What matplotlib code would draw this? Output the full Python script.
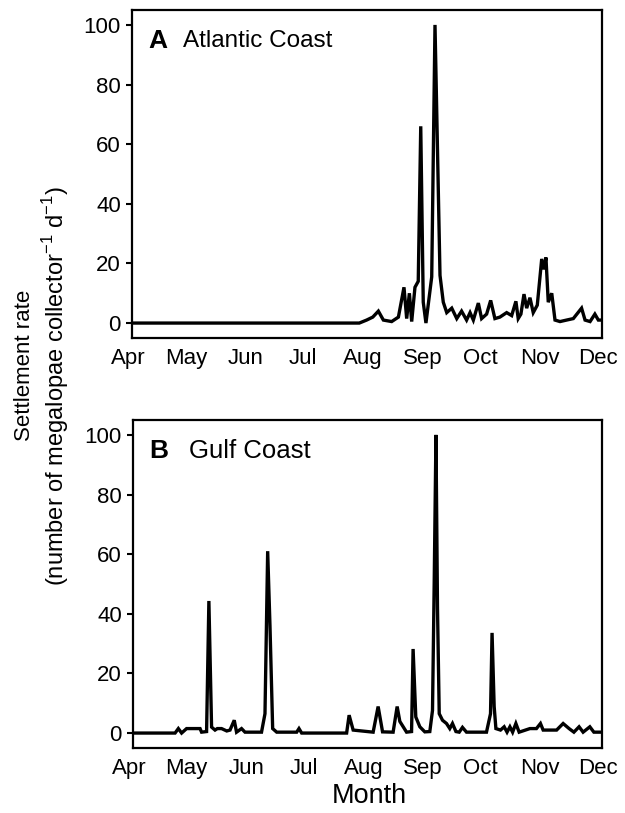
import matplotlib
matplotlib.use("Agg")
import matplotlib.pyplot as plt
import matplotlib.transforms as mtrans

plt.rcParams['font.family'] = ['Liberation Sans', 'DejaVu Sans']

# days counted from 1 April
month_days = [0, 30, 61, 91, 122, 153, 183, 214, 244]
month_names = ['Apr', 'May', 'Jun', 'Jul', 'Aug', 'Sep', 'Oct', 'Nov', 'Dec']
yticks = [0, 20, 40, 60, 80, 100]

# A - Atlantic Coast
atl_day = [0, 118, 121.8, 125, 127.9, 130.5, 134.8, 138.3, 141.2, 142.6, 144.0, 145.2,
           146.9, 148.6, 149.9, 151.2, 152.6, 155.6, 157.3, 159.9, 161.6, 163.4, 166.0,
           168.6, 171.1, 173.7, 175.5, 177.2, 179.8, 181.5, 184.1, 186.2, 188.4, 191.0,
           194.5, 197.1, 199.3, 200.5, 201.9, 203.5, 204.9, 206.6, 208.3, 210.4, 212.7,
           213.9, 214.9, 216.1, 217.9, 219.6, 222.2, 225.6, 229.1, 233.4, 235.2, 237.8,
           240.3, 242.1, 244]
atl_rate = [0, 0, 1, 2, 4, 1, 0.5, 2, 12, 1.5, 10, 0.5,
            12, 14, 66, 7, 0, 15.5, 100, 16, 7, 3.5, 5,
            1.5, 4, 1, 3.5, 1, 6.7, 1.5, 3, 7.6, 1.5, 2,
            3.5, 2.5, 7.3, 1.5, 3, 9.7, 5, 8.5, 3.5, 6, 21.5,
            18, 22, 7, 10, 1, 0.5, 1, 1.5, 5, 1, 0.5,
            3, 1, 1]

# B - Gulf Coast
gulf_day = [0, 21.9, 23.6, 25.3, 27.9, 34.9, 35.7, 38.3, 39.5, 40.9, 42.7, 43.9, 46.1,
            48.8, 50.5, 52.7, 53.9, 56.5, 58.3, 66.9, 68.7, 70.1, 71.3, 72.7, 74.8, 85.2,
            86.4, 87.8, 111.2, 112.5, 114.6, 125.0, 127.6, 129.9, 135.4, 137.5, 138.9,
            142.4, 145.0, 145.8, 147.2, 149.3, 151.9, 154.5, 155.9, 156.8, 157.7, 158.5,
            159.4, 161.1, 163.2, 164.9, 166.3, 168.1, 169.8, 171.5, 173.6, 184.0, 186.1,
            186.9, 188.0, 188.9, 191.3, 193.2, 194.7, 196.2, 197.6, 199.3, 201.0, 206.6,
            210.0, 212.1, 213.5, 220.5, 223.9, 227.0, 229.5, 232.2, 234.3, 237.8, 239.9, 244]
gulf_rate = [0, 0, 1.5, 0, 1.5, 1.5, 0.3, 0.5, 44.3, 2, 1, 1.5, 1.5,
             0.7, 1, 4.3, 0.3, 1.5, 0.3, 0.3, 6.5, 61, 36, 1.5, 0.3, 0.3,
             1.5, 0, 0, 6, 1, 0.3, 8.9, 0.4, 0.3, 8.9, 3.9,
             0.3, 0.5, 28.2, 5.4, 2.1, 0.4, 0.5, 7.6, 51, 100, 42,
             6.5, 4.3, 3.2, 1.5, 3.2, 0.5, 0.3, 1.9, 0.3, 0.3, 6.5,
             33.6, 8.9, 1.5, 1, 2.1, 0.3, 2.1, 0.3, 3.2, 0.3, 1.5,
             1.5, 3.2, 1, 1, 3.2, 1.5, 0.3, 2.1, 0.3, 2.1, 0.3, 0.3]

panels = [('A', 'Atlantic Coast', atl_day, atl_rate),
          ('B', 'Gulf Coast', gulf_day, gulf_rate)]

fig = plt.figure(figsize=(6.25, 8.13), dpi=100)
ax_a = fig.add_axes([0.2112, 0.5843, 0.752, 0.4034])
ax_b = fig.add_axes([0.2128, 0.0800, 0.750, 0.4034])

shift = mtrans.ScaledTranslation(-4 / 100, 0, fig.dpi_scale_trans)

for ax, (letter, name, d, r), tx, fs in zip([ax_a, ax_b], panels, [0.109, 0.119], [17.5, 18.5]):
    ax.plot(d, r, color='black', lw=2.4, solid_joinstyle='miter')
    ax.set_xlim(0, 244)
    ax.set_ylim(-5, 105)
    ax.set_yticks(yticks)
    ax.set_xticks(month_days)
    ax.set_xticklabels(month_names)
    ax.tick_params(axis='x', length=0, labelsize=16, pad=7)
    ax.tick_params(axis='y', direction='out', length=4, width=1.5, labelsize=16, pad=4)
    for lbl in ax.get_xticklabels():
        lbl.set_transform(lbl.get_transform() + shift)
    for s in ax.spines.values():
        s.set_linewidth(1.6)
    ax.text(0.034, 0.905, letter, transform=ax.transAxes, fontsize=19,
            fontweight='bold', va='center', ha='left')
    ax.text(tx, 0.905, name, transform=ax.transAxes, fontsize=fs,
            va='center', ha='left')

fig.text(25 / 625, 1 - 365 / 813, 'Settlement rate', rotation=90,
         fontsize=16, ha='center', va='center')
fig.text(56 / 625, 1 - 386 / 813,
         r'(number of megalopae collector$^{\mathregular{-1}}$ d$^{\mathregular{-1}}$)',
         rotation=90, fontsize=17, ha='center', va='center')
fig.text(369 / 625, 1 - 796 / 813, 'Month', fontsize=19.5, ha='center', va='center')

fig.savefig('out.png', dpi=100)
